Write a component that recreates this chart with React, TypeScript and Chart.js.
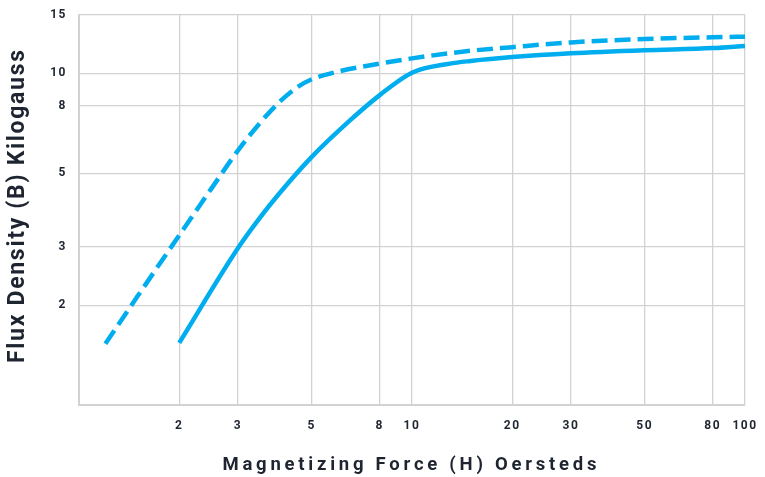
import React, { useEffect, useRef } from 'react';
import { Chart, registerables } from 'chart.js';

Chart.register(...registerables);

// ---- data ----
const xTickValues = [1, 2, 3, 5, 8, 10, 20, 30, 50, 80, 100];
const yTickValues = [1, 2, 3, 5, 8, 10, 15];
const solidH = [2, 3, 3.5, 4, 5, 6.5, 8, 10, 13, 15, 20, 30, 50, 80, 100];
const solidB = [1.54, 2.97, 3.68, 4.35, 5.6, 7.2, 8.6, 10.05, 10.7, 10.9, 11.2, 11.5, 11.75, 11.92, 12.1];
const dashedH = [1.2, 1.5, 2, 2.5, 3, 3.5, 4, 4.5, 5, 6, 8, 10, 15, 20, 30, 50, 80, 100];
const dashedB = [1.53, 2.13, 3.25, 4.5, 5.85, 7.1, 8.2, 9.05, 9.6, 10.13, 10.7, 11.1, 11.7, 12.0, 12.4, 12.7, 12.85, 12.9];
const xTitle = 'Magnetizing Force (H) Oersteds';
const yTitle = 'Flux Density (B) Kilogauss';

// ---- styles ----
const FONT = 'Roboto, "DejaVu Sans", sans-serif';
const TEXT = '#1e2531';
const BLUE = '#00aeef';
const GRID = '#d2d2d2';

function drawFitted(ctx: CanvasRenderingContext2D, text: string, cx: number, base: number, size: number, width: number, rotate: boolean) {
  ctx.save();
  ctx.font = `bold ${size}px ${FONT}`;
  (ctx as any).letterSpacing = '0px';
  const w0 = ctx.measureText(text).width;
  const s = (width - w0) / (text.length - 1);
  (ctx as any).letterSpacing = `${s}px`;
  ctx.textAlign = 'left';
  ctx.textBaseline = 'alphabetic';
  if (rotate) {
    ctx.translate(base, cx);
    ctx.rotate(-Math.PI / 2);
    ctx.fillText(text, -width / 2, 0);
  } else {
    ctx.fillText(text, cx - width / 2, base);
  }
  ctx.restore();
}

const titlesPlugin = {
  id: 'titles',
  beforeLayout(chart: any) {
    chart.ctx.letterSpacing = '1.5px';
  },
  beforeDraw(chart: any) {
    chart.ctx.letterSpacing = '1.5px';
  },
  afterDraw(chart: any) {
    const ctx = chart.ctx as CanvasRenderingContext2D;
    const a = chart.chartArea;
    ctx.save();
    ctx.fillStyle = TEXT;
    drawFitted(ctx, xTitle, (a.left + a.right) / 2 - 2.5, 470, 18.5, 374, false);
    drawFitted(ctx, yTitle, (a.top + a.bottom) / 2 - 3.5, 24, 23, 313, true);
    ctx.restore();
    (ctx as any).letterSpacing = '0px';
  },
};

const zeroPad = (scale: any) => {
  scale.paddingLeft = 0;
  scale.paddingRight = 0;
  scale.paddingTop = 0;
  scale.paddingBottom = 0;
};

export default function App() {
  const ref = useRef<HTMLCanvasElement | null>(null);

  useEffect(() => {
    if (!ref.current) return;
    const chart = new Chart(ref.current, {
      type: 'line',
      data: {
        datasets: [
          {
            label: 'dashed',
            data: dashedH.map((h, i) => ({ x: h, y: dashedB[i] })),
            borderColor: BLUE,
            borderWidth: 4.5,
            borderDash: [16, 7],
            pointRadius: 0,
            fill: false,
            cubicInterpolationMode: 'monotone',
          },
          {
            label: 'solid',
            data: solidH.map((h, i) => ({ x: h, y: solidB[i] })),
            borderColor: BLUE,
            borderWidth: 4.5,
            pointRadius: 0,
            fill: false,
            cubicInterpolationMode: 'monotone',
          },
        ],
      },
      options: {
        animation: false,
        responsive: false,
        layout: { padding: { left: 0, top: 15, right: 20, bottom: 0 } },
        plugins: { legend: { display: false }, tooltip: { enabled: false } },
        scales: {
          x: {
            type: 'logarithmic',
            min: 1,
            max: 100,
            afterBuildTicks: (axis: any) => {
              axis.ticks = xTickValues.map((v) => ({ value: v }));
            },
            afterFit: (scale: any) => {
              scale.height = 72;
              zeroPad(scale);
            },
            grid: { color: GRID, lineWidth: 1.3, drawTicks: false },
            border: { display: true, color: GRID, width: 2 },
            ticks: {
              autoSkip: false,
              maxRotation: 0,
              padding: 14,
              color: TEXT,
              font: { family: FONT, size: 12, weight: 'bold' },
              callback: (v: any) => (Number(v) === 1 ? '' : String(v)),
            },
          },
          y: {
            type: 'logarithmic',
            min: 1,
            max: 15,
            afterBuildTicks: (axis: any) => {
              axis.ticks = yTickValues.map((v) => ({ value: v }));
            },
            afterFit: (scale: any) => {
              scale.width = 79;
              zeroPad(scale);
            },
            grid: { color: GRID, lineWidth: 1.3, drawTicks: false },
            border: { display: true, color: GRID, width: 2 },
            ticks: {
              autoSkip: false,
              padding: 12,
              color: TEXT,
              font: { family: FONT, size: 12, weight: 'bold' },
              callback: (v: any) => (Number(v) === 1 ? '' : String(v)),
            },
          },
        },
      } as any,
      plugins: [titlesPlugin],
    });
    return () => chart.destroy();
  }, []);

  return (
    <div style={{ position: 'absolute', left: 0, top: 0, width: 765, height: 477, background: '#fff' }}>
      <canvas ref={ref} width={765} height={477} style={{ display: 'block' }} />
    </div>
  );
}
